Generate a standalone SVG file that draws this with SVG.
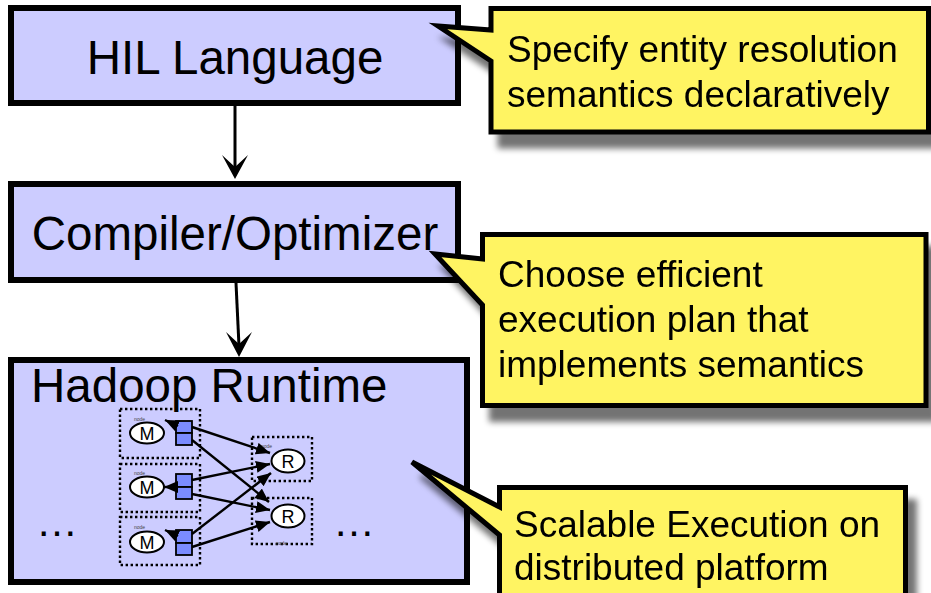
<svg xmlns="http://www.w3.org/2000/svg" width="931" height="593" viewBox="0 0 931 593">
<style>
.box{fill:#ccccff;stroke:#000;stroke-width:6}
.big{font-family:"Liberation Sans",Arial,sans-serif;font-size:47.5px;fill:#000}
.dots{font-family:"Liberation Sans",Arial,sans-serif;font-size:42px;fill:#000}
.call{fill:#fff462;stroke:#000;stroke-width:5;stroke-linejoin:miter}
.ct{font-family:"Liberation Sans",Arial,sans-serif;font-size:37px;fill:#000}
.conn{stroke:#000;stroke-width:3;fill:none}
.dot{fill:none;stroke:#000;stroke-width:2.4;stroke-dasharray:2.4 2.6}
.ell{fill:#fff;stroke:#000;stroke-width:2}
.sq{fill:#7b8cff;stroke:#000;stroke-width:1.8}
.small{font-family:"Liberation Sans",Arial,sans-serif;font-size:18px;fill:#000}
.tiny{font-family:"Liberation Sans",Arial,sans-serif;font-size:5px;fill:#444}
.mini{stroke:#000;stroke-width:2.4;fill:none}
</style>
<defs>
<filter id="sh" x="-10%" y="-20%" width="130%" height="150%">
<feGaussianBlur in="SourceAlpha" stdDeviation="3"/>
<feOffset dx="9" dy="14"/>
<feComponentTransfer><feFuncA type="linear" slope="0.55"/></feComponentTransfer>
<feMerge><feMergeNode/><feMergeNode in="SourceGraphic"/></feMerge>
</filter>
<marker id="ah" markerUnits="userSpaceOnUse" markerWidth="15" markerHeight="13" refX="14" refY="6" orient="auto">
<path d="M0,0 L14,6 L0,12 Z" fill="#000"/>
</marker>
</defs>

<g id="hil">
<rect class="box" x="11" y="8" width="447" height="95"/>
<text class="big" x="235" y="74" text-anchor="middle">HIL Language</text>
</g>

<g id="compiler">
<rect class="box" x="11" y="184" width="447" height="96"/>
<text class="big" x="235" y="250" text-anchor="middle">Compiler/Optimizer</text>
</g>

<g id="hadoop">
<rect class="box" x="11" y="360" width="456" height="222"/>
<text class="big" x="31" y="402">Hadoop Runtime</text>
<text class="dots" x="36" y="536">…</text>
<text class="dots" x="333" y="536">…</text>
<g id="mapreduce">
<rect class="dot" x="120" y="409" width="80" height="49"/>
<rect class="dot" x="120" y="464" width="80" height="48"/>
<rect class="dot" x="120" y="517" width="80" height="48"/>
<rect class="dot" x="252" y="437" width="60" height="44"/>
<rect class="dot" x="252" y="498" width="60" height="46"/>
<text class="tiny" x="134" y="421">node</text>
<text class="tiny" x="134" y="475">node</text>
<text class="tiny" x="134" y="529">node</text>
<text class="tiny" x="261" y="448">node</text>
<text class="tiny" x="276" y="545">node</text>
<ellipse class="ell" cx="147" cy="433" rx="17" ry="10.5"/>
<ellipse class="ell" cx="147" cy="487" rx="17" ry="10.5"/>
<ellipse class="ell" cx="147" cy="542" rx="17" ry="10.5"/>
<text class="small" x="147" y="439.5" text-anchor="middle">M</text>
<text class="small" x="147" y="493.5" text-anchor="middle">M</text>
<text class="small" x="147" y="548.5" text-anchor="middle">M</text>
<ellipse class="ell" cx="288" cy="461" rx="16.5" ry="11.5"/>
<ellipse class="ell" cx="288" cy="516" rx="16.5" ry="11.5"/>
<text class="small" x="288" y="467.5" text-anchor="middle">R</text>
<text class="small" x="288" y="522.5" text-anchor="middle">R</text>
<rect class="sq" x="176" y="421" width="16" height="12"/>
<rect class="sq" x="176" y="433" width="16" height="12"/>
<rect class="sq" x="176" y="474" width="16" height="13"/>
<rect class="sq" x="176" y="487" width="16" height="12"/>
<rect class="sq" x="176" y="530" width="16" height="13"/>
<rect class="sq" x="176" y="543" width="16" height="12"/>
</g>
</g>

<g id="connectors">
<line class="conn" x1="235" y1="106" x2="235" y2="170"/>
<path d="M235,179 L222,155 L235,167 L248,155 Z" fill="#000"/>
<line class="conn" x1="236" y1="283" x2="239" y2="346"/>
<path d="M239,357 L226,332 L239,344 L252,332 Z" fill="#000"/>
<g id="mini-edges">
<line class="mini" x1="178" y1="426" x2="165" y2="420" marker-end="url(#ah)"/>
<line class="mini" x1="177" y1="487" x2="164" y2="487" marker-end="url(#ah)"/>
<line class="mini" x1="178" y1="536" x2="165" y2="530" marker-end="url(#ah)"/>
<line class="mini" x1="192" y1="427" x2="270" y2="453" marker-end="url(#ah)"/>
<line class="mini" x1="192" y1="440" x2="269" y2="502" marker-end="url(#ah)"/>
<line class="mini" x1="192" y1="480" x2="270" y2="464" marker-end="url(#ah)"/>
<line class="mini" x1="192" y1="494" x2="270" y2="510" marker-end="url(#ah)"/>
<line class="mini" x1="192" y1="534" x2="271" y2="473" marker-end="url(#ah)"/>
<line class="mini" x1="192" y1="547" x2="270" y2="522" marker-end="url(#ah)"/>
</g>
</g>

<g id="callout1" filter="url(#sh)">
<path class="call" d="M491,8.5 H928.5 V132 H491 V61 L438,26 L491,30 Z"/>
<text class="ct" x="507" y="62">Specify entity resolution</text>
<text class="ct" x="507" y="107">semantics declaratively</text>
</g>

<g id="callout2" filter="url(#sh)">
<path class="call" d="M482.5,234.5 H926 V405.5 H482.5 V305 L435,254 L482.5,259 Z"/>
<text class="ct" x="498" y="287">Choose efficient</text>
<text class="ct" x="498" y="332">execution plan that</text>
<text class="ct" x="498" y="377">implements semantics</text>
</g>

<g id="callout3" filter="url(#sh)">
<path class="call" d="M499.5,487.5 H905.5 V610 H499.5 V535 L412,462 L499.5,507 Z"/>
<text class="ct" x="514" y="537">Scalable Execution on</text>
<text class="ct" x="514" y="580">distributed platform</text>
</g>
</svg>
